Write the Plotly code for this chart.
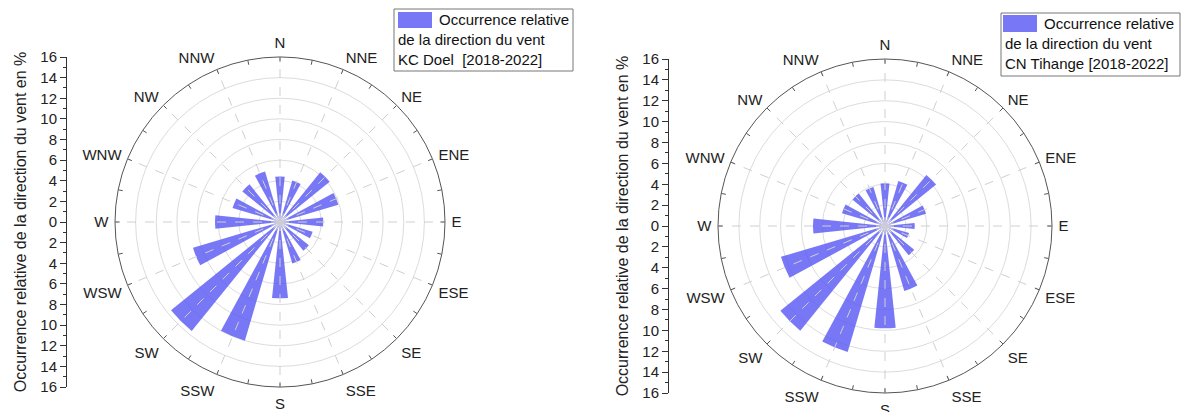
import numpy as np
import plotly.graph_objects as go

# Wind directions (16 sectors, clockwise from North)
directions = ["N", "NNE", "NE", "ENE", "E", "ESE", "SE", "SSE",
              "S", "SSW", "SW", "WSW", "W", "WNW", "NW", "NNW"]

# Relative occurrence of wind direction (%), 2018-2022
doel = [4.4, 4.2, 6.2, 5.9, 4.2, 3.3, 3.6, 4.2,
        7.4, 12.0, 13.6, 8.8, 6.3, 4.8, 4.7, 5.1]
tihange = [4.1, 4.5, 6.3, 4.1, 2.85, 2.4, 3.6, 6.5,
           9.8, 12.6, 12.9, 10.4, 6.9, 4.3, 4.0, 3.9]

# Radial grid circles and side-scale ticks
radial_ticks = list(range(2, 17, 2))
side_ticks = list(range(-16, 17, 2))
r_max = 16

legend_lines_doel = ["Occurrence relative", "de la direction du vent", "KC Doel  [2018-2022]"]
legend_lines_tihange = ["Occurrence relative", "de la direction du vent", "CN Tihange [2018-2022]"]
axis_title = "Occurrence relative de la direction du vent en %"

W, H = 1182, 412
FONT = "Liberation Sans, Arial, sans-serif"
BAR_COLOR = "rgba(86,86,244,0.8)"


def fx(x):
    return x / W


def fy(y):
    return 1 - y / H


sector = 360 / len(directions)
theta = [i * sector for i in range(len(directions))]
tick_angles = list(np.arange(0, 360, sector / 2))

fig = go.Figure()

panels = [
    dict(polar="polar", values=doel, cx=280, cy=222, R=165, axis_x=66,
         yaxis="y", xaxis="x", lines=legend_lines_doel,
         box=(394, 9, 573, 71), swatch=(398, 12, 432, 28)),
    dict(polar="polar2", values=tihange, cx=885, cy=226, R=167, axis_x=668,
         yaxis="y2", xaxis="x2", lines=legend_lines_tihange,
         box=(1001, 13, 1180, 76), swatch=(1003, 15, 1037, 32)),
]

shapes = []
annotations = []
layout_extra = {}

for k, p in enumerate(panels):
    # dashed radial spokes
    for a in theta:
        fig.add_trace(go.Scatterpolar(
            r=[0, r_max], theta=[a, a], mode="lines", subplot=p["polar"],
            line=dict(color="#cfcfcf", width=1, dash="dash"),
            showlegend=False, hoverinfo="skip"))
    # wind-rose bars
    fig.add_trace(go.Barpolar(
        r=p["values"], theta=theta, width=[12] * len(theta), subplot=p["polar"],
        marker=dict(color=BAR_COLOR, line=dict(width=0)),
        name="Occurrence relative", showlegend=False,
        hovertext=directions))
    # inward tick marks on the outer circle (every half sector)
    tick_len = 0.45
    for a in tick_angles:
        fig.add_trace(go.Scatterpolar(
            r=[r_max - tick_len, r_max], theta=[a, a], mode="lines", subplot=p["polar"],
            line=dict(color="#555", width=1), showlegend=False, hoverinfo="skip"))
    # invisible trace carrying the side scale
    fig.add_trace(go.Scatter(
        x=[0], y=[0], xaxis=p["xaxis"], yaxis=p["yaxis"], mode="markers",
        marker=dict(opacity=0), showlegend=False, hoverinfo="skip"))

    x0, x1 = fx(p["cx"] - p["R"]), fx(p["cx"] + p["R"])
    y0, y1 = fy(p["cy"] + p["R"]), fy(p["cy"] - p["R"])
    layout_extra[p["polar"]] = dict(
        domain=dict(x=[x0, x1], y=[y0, y1]),
        bgcolor="white",
        radialaxis=dict(range=[0, r_max], tickvals=radial_ticks, showticklabels=False,
                        ticks="", showline=False, gridcolor="#dcdcdc", gridwidth=1,
                        layer="below traces"),
        angularaxis=dict(direction="clockwise", rotation=90, tickmode="array",
                         tickvals=theta, ticktext=directions, ticks="outside",
                         ticklen=3, tickcolor="rgba(0,0,0,0)", showgrid=False, showline=True,
                         linecolor="#555", linewidth=1, layer="below traces",
                         tickfont=dict(family=FONT, size=15, color="#222")),
    )
    ax_suffix = "" if k == 0 else "2"
    layout_extra["xaxis" + ax_suffix] = dict(domain=[0, 0.01] if k == 0 else [0.5, 0.51],
                                             visible=False, range=[-1, 1], fixedrange=True,
                                             automargin=False)
    layout_extra["yaxis" + ax_suffix] = dict(
        domain=[y0, y1], range=[-r_max, r_max], anchor="free", position=fx(p["axis_x"]),
        tickmode="array", tickvals=side_ticks, ticktext=[str(abs(v)) for v in side_ticks],
        ticks="outside", ticklen=6, tickcolor="#333", showline=True, linecolor="#333",
        linewidth=1, showgrid=False, zeroline=False, fixedrange=True, automargin=False,
        minor=dict(dtick=1, ticks="outside", ticklen=3, tickcolor="#333"),
        tickfont=dict(family=FONT, size=15, color="#222"),
        title=dict(text=axis_title, font=dict(family=FONT, size=16, color="#222"), standoff=8),
    )

    # legend box
    bx0, by0, bx1, by1 = p["box"]
    shapes.append(dict(type="rect", xref="paper", yref="paper",
                       x0=fx(bx0), x1=fx(bx1), y0=fy(by1), y1=fy(by0),
                       line=dict(color="#777", width=1), fillcolor="white"))
    sx0, sy0, sx1, sy1 = p["swatch"]
    shapes.append(dict(type="rect", xref="paper", yref="paper",
                       x0=fx(sx0), x1=fx(sx1), y0=fy(sy1), y1=fy(sy0),
                       line=dict(width=0), fillcolor=BAR_COLOR))
    line_y = [(sy0 + sy1) / 2, (sy0 + sy1) / 2 + 20, (sy0 + sy1) / 2 + 40]
    line_x = [sx1 + 5, bx0 + 2, bx0 + 2]
    for text, lx, ly in zip(p["lines"], line_x, line_y):
        annotations.append(dict(text=text, xref="paper", yref="paper", x=fx(lx), y=fy(ly),
                                xanchor="left", yanchor="middle", showarrow=False,
                                font=dict(family=FONT, size=15, color="#111")))

fig.update_layout(
    template="none",
    width=W, height=H, margin=dict(l=0, r=0, t=0, b=0, autoexpand=False),
    paper_bgcolor="white", plot_bgcolor="white",
    showlegend=False, shapes=shapes, annotations=annotations,
    **layout_extra,
)

fig.write_html("out.html")
